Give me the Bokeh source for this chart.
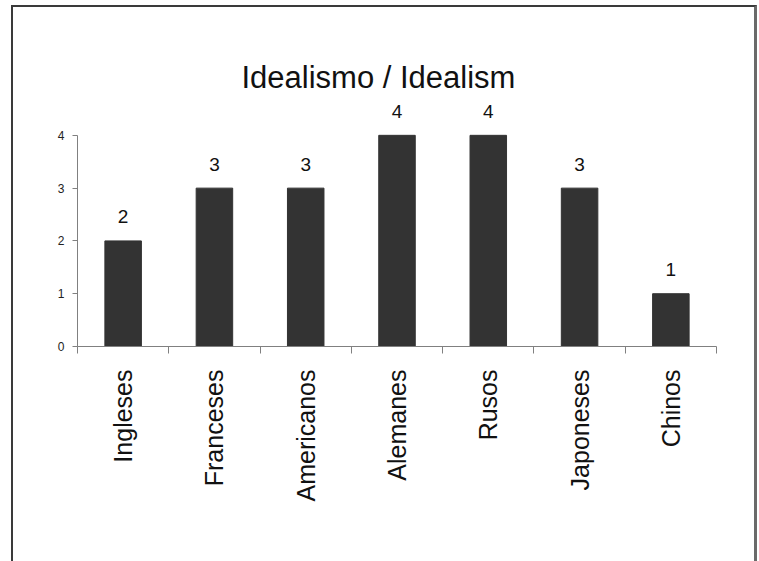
import math
from bokeh.plotting import figure
from bokeh.models import Range1d, FixedTicker, ColumnDataSource
from bokeh.embed import file_html
from bokeh.resources import INLINE

categories = ["Ingleses", "Franceses", "Americanos", "Alemanes", "Rusos", "Japoneses", "Chinos"]
values = [2, 3, 3, 4, 4, 3, 1]
y_ticks = [0, 1, 2, 3, 4]
title_text = "Idealismo / Idealism"

n = len(categories)
centers = [i + 0.5 for i in range(n)]
boundaries = list(range(n + 1))

src = ColumnDataSource(dict(x=centers, top=values, label=[str(v) for v in values]))

p = figure(width=746, height=556, output_backend="svg", toolbar_location=None,
           x_range=Range1d(0, n), y_range=Range1d(0, 4.66),
           min_border_left=64, min_border_right=43, min_border_top=93, min_border_bottom=217,
           background_fill_color="white", border_fill_color="white", outline_line_color=None)
p.styles = {"border-left": "2px solid #3a3a3a", "border-top": "2px solid #3a3a3a",
            "border-right": "3px solid #6a6a6a", "margin-left": "11px", "margin-top": "5px"}

p.title.text = title_text
p.title.text_font = "Liberation Sans"
p.title.text_font_size = "31px"
p.title.text_font_style = "normal"
p.title.align = "left"
p.title.offset = 164
p.title.text_color = "#111111"
p.title.standoff = 11

p.vbar(x="x", top="top", width=0.4, bottom=0, source=src, fill_color="#333333", line_color="#333333")
p.text(x="x", y="top", text="label", source=src, y_offset=-24, text_align="center",
       text_baseline="alphabetic", text_font_size="19px", text_color="#111111")

p.grid.visible = False

xa = p.xaxis[0]
xa.ticker = FixedTicker(ticks=centers, minor_ticks=boundaries)
xa.major_label_overrides = {c: lab for c, lab in zip(centers, categories)}
xa.major_label_orientation = math.pi / 2
xa.major_tick_line_color = None
xa.major_tick_out = 0
xa.major_tick_in = 0
xa.minor_tick_out = 7
xa.minor_tick_in = 0
xa.minor_tick_line_color = "#808080"
xa.axis_line_color = "#808080"
xa.major_label_text_font = "Liberation Sans"
xa.major_label_text_font_size = "25px"
xa.major_label_text_color = "#111111"
xa.major_label_standoff = 16

ya = p.yaxis[0]
ya.ticker = FixedTicker(ticks=y_ticks, minor_ticks=[])
ya.bounds = (0, 4)
ya.axis_line_color = "#808080"
ya.major_tick_line_color = "#808080"
ya.major_tick_out = 5
ya.major_tick_in = 0
ya.major_label_text_font = "Liberation Sans"
ya.major_label_text_font_size = "12px"
ya.major_label_text_color = "#222222"
ya.major_label_standoff = 8

open("out.html", "w").write(file_html(p, INLINE))
